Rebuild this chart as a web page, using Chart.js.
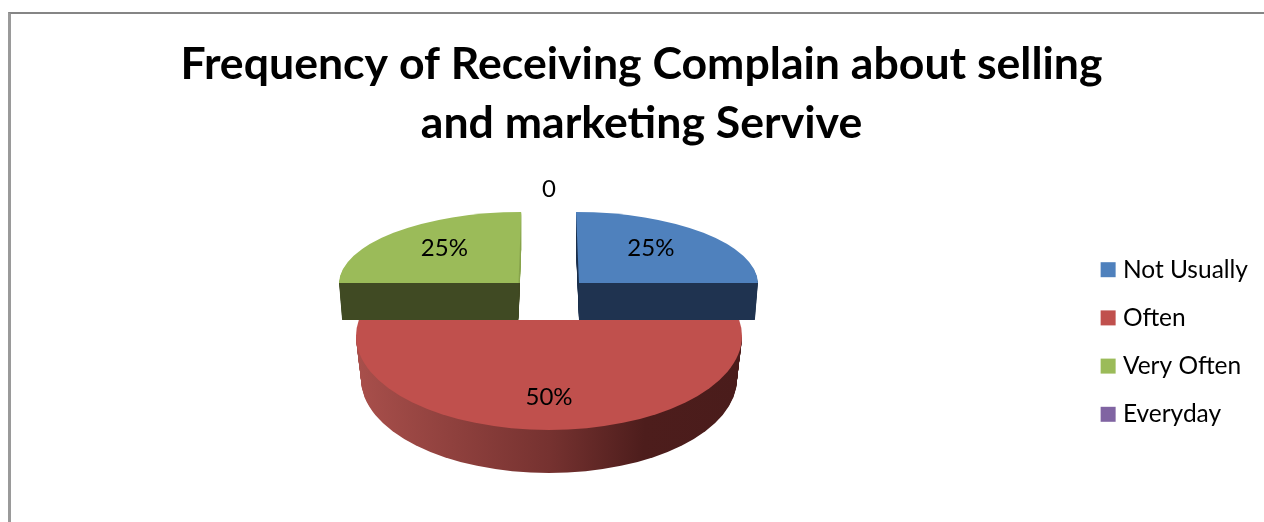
<!DOCTYPE html>
<html>
<head>
<meta charset="utf-8">
<title>Frequency of Receiving Complain</title>
<script src="https://cdn.jsdelivr.net/npm/chart.js@4/dist/chart.umd.min.js"></script>
<style>
  html, body { margin: 0; padding: 0; background: #fff; overflow: hidden; }
  #wrap { position: relative; width: 1264px; height: 522px; }
  #frame { position: absolute; left: 8px; top: 12px; right: 0; bottom: 0;
           border-left: 3px solid #9a9a9a; border-top: 2px solid #858585; }
  canvas { position: absolute; left: 0; top: 0; }
</style>
</head>
<body>
<div id="wrap">
  <div id="frame"></div>
  <canvas id="chart-complain" width="1264" height="522"></canvas>
</div>
<script>
const titleLines = ["Frequency of Receiving Complain about selling", "and marketing Servive"];
const categories = ["Not Usually", "Often", "Very Often", "Everyday"];
const shares = [25, 50, 25, 0];
const sliceColors = ["#4f81bd", "#c0504d", "#9bbb59", "#8064a2"];
const wallColors = ["#1f3350", null, "#404a23", null];
const edgeColors = ["#1f3350", null, "#8aa650", null];
const FONT = "Lato";
const LEGEND_MIDDLE = 342;

// how each slice sits in the fake 3d view (chart.js only draws flat circles)
const views = [
  { cx: 579, cy: 283, rx: 179, ry: 71, shear: 3, depth: 37, shrink: 3, lk: [1.136, 1.38] },
  { cx: 549, cy: 336, rx: 193, ry: 94, shear: 0, depth: 43, shrink: 5, lk: [1, 1.30], clipTop: 320 },
  { cx: 518.5, cy: 283, rx: 179.5, ry: 71, shear: -2.7, depth: 37, shrink: 3, lk: [1.168, 1.38] },
  { cx: 549, cy: 283, rx: 179, ry: 71, shear: 0, depth: 0, shrink: 0, lk: [1, 2.65] },
];

function placeSlice(ctx, arc, v, t, flip) {
  const R = arc.outerRadius;
  const a = (v.rx - v.shrink * t) / R;
  const d = (flip ? -v.ry : v.ry) / R;
  const c = v.shear / R;
  const cy = v.cy + v.depth * t;
  ctx.transform(a, 0, c, d, v.cx - a * arc.x - c * arc.y, cy - d * arc.y);
}

function drawWith(ctx, arc, fill) {
  const saved = arc.options;
  arc.options = Object.assign({}, saved, { backgroundColor: fill });
  arc.draw(ctx);
  arc.options = saved;
}

// extrude the slice downwards, above the cut line only a sliver of it shows
function drawWall(chart, arc, v, fill, y, h) {
  const ctx = chart.ctx;
  ctx.save();
  ctx.beginPath();
  ctx.rect(0, y, chart.width, h);
  ctx.clip();
  for (let n = v.depth; n > 0; n--) {
    ctx.save();
    placeSlice(ctx, arc, v, n / v.depth);
    drawWith(ctx, arc, fill);
    ctx.restore();
  }
  ctx.restore();
}

function drawSlice(chart, arc, i) {
  const ctx = chart.ctx;
  const v = views[i];
  let wall = wallColors[i];
  let edge = edgeColors[i];
  if (!wall) {
    // the red slice has a shaded rim
    wall = ctx.createLinearGradient(arc.x - arc.outerRadius, 0, arc.x + arc.outerRadius, 0);
    wall.addColorStop(0, "#a84f4b");
    wall.addColorStop(0.5, "#763230");
    wall.addColorStop(0.75, "#4d1d1c");
    wall.addColorStop(1, "#4a1c1b");
    edge = wall;
  }
  drawWall(chart, arc, v, edge, 0, v.cy);
  drawWall(chart, arc, v, wall, v.cy, chart.height - v.cy);
  ctx.save();
  placeSlice(ctx, arc, v, 0);
  arc.draw(ctx);
  ctx.restore();
  if (v.clipTop) {
    // back edge of the big slice is flatter than its front
    ctx.save();
    ctx.beginPath();
    ctx.rect(0, v.clipTop, chart.width, v.cy - v.clipTop + 1);
    ctx.clip();
    placeSlice(ctx, arc, v, 0, true);
    arc.draw(ctx);
    ctx.restore();
  }
}

const fakePie3d = {
  id: "fakePie3d",
  afterLayout(chart) {
    // legend sits lower than the layout would put it
    const legend = chart.legend;
    const h = legend.bottom - legend.top;
    legend.top = LEGEND_MIDDLE - h / 2;
    legend.bottom = LEGEND_MIDDLE + h / 2;
  },
  beforeDatasetsDraw(chart) {
    const arcs = chart.getDatasetMeta(0).data;
    [0, 2, 1, 3].forEach(function (i) { drawSlice(chart, arcs[i], i); });
    return false;
  },
  afterDraw(chart) {
    const ctx = chart.ctx;
    const arcs = chart.getDatasetMeta(0).data;
    ctx.save();
    ctx.fillStyle = "#000";
    ctx.font = "24px " + FONT;
    ctx.textAlign = "center";
    ctx.textBaseline = "middle";
    arcs.forEach(function (arc, i) {
      const v = views[i];
      const c = arc.getCenterPoint();
      const R = arc.outerRadius;
      const px = v.cx + (c.x - arc.x) / R * v.rx * v.lk[0];
      const py = v.cy + (c.y - arc.y) / R * v.ry * v.lk[1];
      ctx.fillText(shares[i] ? shares[i] + "%" : "0", px, py);
    });
    ctx.restore();
  },
};

new Chart(document.getElementById("chart-complain"), {
  type: "pie",
  data: {
    labels: categories,
    datasets: [{ data: shares, backgroundColor: sliceColors, borderWidth: 0, hoverOffset: 0 }],
  },
  options: {
    responsive: false,
    maintainAspectRatio: false,
    animation: false,
    layout: { padding: { left: 25, right: 6, top: 0, bottom: 0 } },
    plugins: {
      title: {
        display: true,
        text: titleLines,
        color: "#000",
        font: { family: FONT, size: 44.6, weight: "bold", lineHeight: 1.323 },
        padding: { top: 35, bottom: 10 },
      },
      legend: {
        position: "right",
        labels: {
          color: "#000",
          font: { family: FONT, size: 24.5 },
          usePointStyle: true,
          pointStyle: "rect",
          boxWidth: 5,
          boxHeight: 15,
          padding: 23.7,
        },
      },
      tooltip: { enabled: false },
    },
  },
  plugins: [fakePie3d],
});
</script>
</body>
</html>
